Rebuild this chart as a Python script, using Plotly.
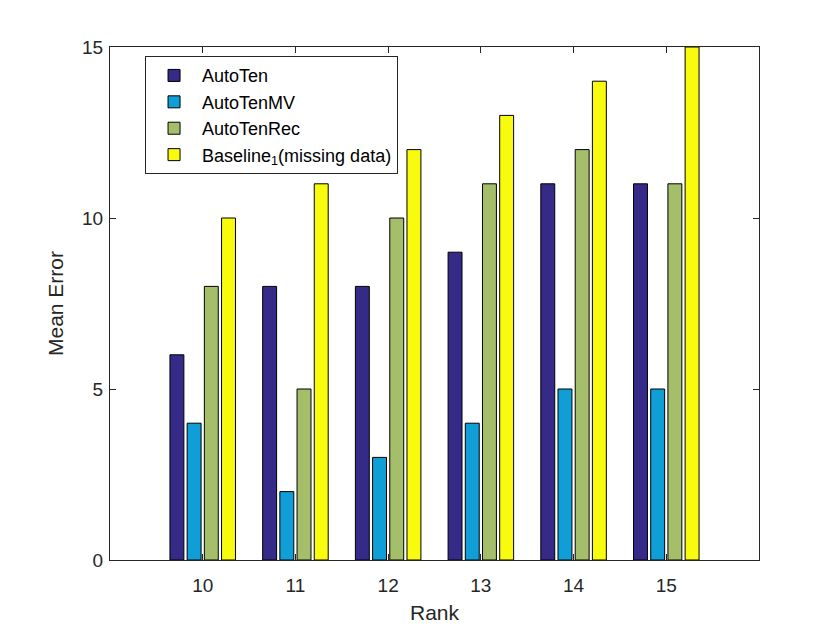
import plotly.graph_objects as go

ranks = [10, 11, 12, 13, 14, 15]
auto_ten = [6, 8, 8, 9, 11, 11]
auto_ten_mv = [4, 2, 3, 4, 5, 5]
auto_ten_rec = [8, 5, 10, 11, 12, 11]
baseline = [10, 11, 12, 13, 14, 15]

series = [
    ("AutoTen", auto_ten, "#352A87"),
    ("AutoTenMV", auto_ten_mv, "#0F9FD6"),
    ("AutoTenRec", auto_ten_rec, "#A5BE6A"),
    ("Baseline<sub>1</sub>(missing data)", baseline, "#F9FB0E"),
]

fig = go.Figure()
for name, vals, col in series:
    fig.add_trace(go.Bar(x=ranks, y=vals, name=name, marker_color=col,
                         marker_line_color="black", marker_line_width=1))

axis_common = dict(showline=True, linecolor="#262626", linewidth=1, mirror="ticks",
                   ticks="inside", ticklen=6, tickcolor="#262626", showgrid=False,
                   zeroline=False, tickfont=dict(size=19, color="#262626"))

fig.update_layout(
    width=840, height=630,
    paper_bgcolor="white", plot_bgcolor="white",
    font=dict(family="Liberation Sans, Arial, sans-serif", color="#262626"),
    margin=dict(l=102, r=89, t=39, b=78),
    barmode="group", bargap=0.258, bargroupgap=0.19,
    xaxis=dict(range=[9, 16], tickvals=ranks, ticklabelstandoff=8,
               title=dict(text="Rank", font=dict(size=21), standoff=10), **axis_common),
    yaxis=dict(range=[0, 15], tickvals=[0, 5, 10, 15], ticklabelstandoff=2,
               title=dict(text="Mean Error", font=dict(size=21), standoff=12), **axis_common),
    legend=dict(x=0.054, y=0.982, xanchor="left", yanchor="top", bordercolor="#262626", borderwidth=1,
                bgcolor="white", font=dict(size=18, color="black"), tracegroupgap=0, itemwidth=46),
    showlegend=True,
)

fig.write_html("out.html")
